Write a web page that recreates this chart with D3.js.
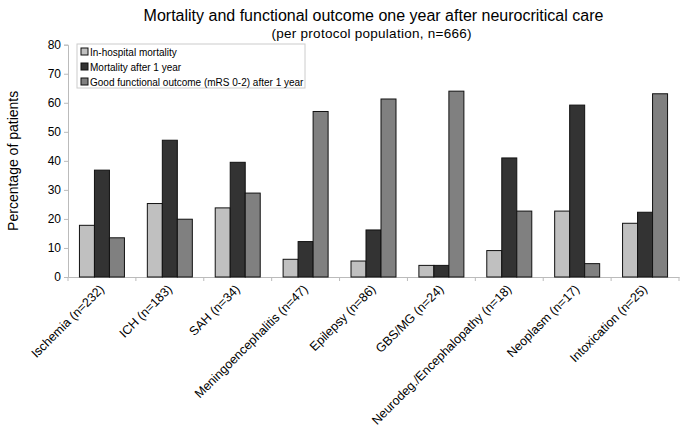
<!DOCTYPE html>
<html><head><meta charset="utf-8">
<script src="https://cdn.jsdelivr.net/npm/d3@7/dist/d3.min.js"></script>
<style>body{margin:0;background:#fff;font-family:"Liberation Sans",Arial,sans-serif;}</style>
</head><body><div id="chart"></div>
<script>
const categories = ["Ischemia (n=232)","ICH (n=183)","SAH (n=34)","Meningoencephalitis (n=47)","Epilepsy (n=86)","GBS/MG (n=24)","Neurodeg./Encephalopathy (n=18)","Neoplasm (n=17)","Intoxication (n=25)"];
const seriesNames = ["In-hospital mortality","Mortality after 1 year","Good functional outcome (mRS 0-2) after 1 year"];
const inHospital = [17.8, 25.3, 23.8, 6.1, 5.5, 4.0, 9.1, 22.7, 18.5];
const mortality1y = [36.8, 47.1, 39.5, 12.2, 16.2, 4.0, 41.0, 59.2, 22.3];
const goodOutcome = [13.5, 19.9, 28.9, 57.0, 61.3, 64.0, 22.7, 4.6, 63.1];
const yTicks = [0,10,20,30,40,50,60,70,80];
const colors = ["#c0c0c0","#333333","#808080"];

const W=685,H=430;
const m={left:68,right:6,top:44.7,bottom:153};
const svg=d3.select("#chart").append("svg").attr("width",W).attr("height",H)
  .style("font-family","'Liberation Sans',Arial,sans-serif");
const x=d3.scaleBand().domain(categories).range([m.left,W-m.right]).paddingInner(0).paddingOuter(0);
const y=d3.scaleLinear().domain([0,80]).range([H-m.bottom,m.top]);
const seriesData=[inHospital,mortality1y,goodOutcome];
const groupW=45;
const xs=d3.scaleBand().domain([0,1,2]).range([0,groupW]);

// axes
const yAxis=svg.append("g").attr("transform",`translate(${m.left},0)`)
  .call(d3.axisLeft(y).tickValues(yTicks).tickSize(4).tickPadding(3));
yAxis.select(".domain").attr("stroke","#bbb");
yAxis.selectAll(".tick line").attr("stroke","#bbb");
yAxis.selectAll(".tick text").attr("font-size","12px").attr("fill","#000").attr("font-family","'Liberation Sans',Arial,sans-serif");

const xAxis=svg.append("g").attr("transform",`translate(0,${y(0)})`)
  .call(d3.axisBottom(x).tickSize(0).tickFormat(""));
xAxis.select(".domain").attr("stroke","#bbb");
// boundary ticks
svg.append("g").selectAll("line").data(categories.concat(["__end"])).join("line")
  .attr("x1",(d,i)=>x.range()[0]+i*x.bandwidth()).attr("x2",(d,i)=>x.range()[0]+i*x.bandwidth())
  .attr("y1",y(0)).attr("y2",y(0)+4).attr("stroke","#bbb");

// bars
const groups=svg.append("g").selectAll("g").data(categories).join("g")
  .attr("transform",d=>`translate(${x(d)+(x.bandwidth()-groupW)/2},0)`);
groups.selectAll("rect").data((d,i)=>seriesData.map((s,j)=>({j,v:s[i]}))).join("rect")
  .attr("x",d=>xs(d.j)).attr("width",xs.bandwidth())
  .attr("y",d=>y(d.v)).attr("height",d=>y(0)-y(d.v))
  .attr("fill",d=>colors[d.j]).attr("stroke","#111").attr("stroke-width",1);

// x labels
svg.append("g").selectAll("text").data(categories).join("text")
  .attr("transform",d=>`translate(${x(d)+x.bandwidth()/2+3},${y(0)+13}) rotate(-45)`)
  .attr("text-anchor","end").attr("font-size","12.5px").text(d=>d);

// titles
const cx=(m.left+W-m.right)/2;
svg.append("text").attr("x",cx).attr("y",21).attr("text-anchor","middle").attr("font-size","16px").text("Mortality and functional outcome one year after neurocritical care");
svg.append("text").attr("x",cx-2).attr("y",38).attr("text-anchor","middle").attr("font-size","13.5px").attr("textLength",200).text("(per protocol population, n=666)");
svg.append("text").attr("transform",`translate(18,${(y(0)+y(80))/2}) rotate(-90)`).attr("text-anchor","middle").attr("font-size","14px").text("Percentage of patients");

// legend
const lg=svg.append("g").attr("transform","translate(77,44)");
lg.append("rect").attr("width",228).attr("height",44).attr("fill","#fff").attr("stroke","#ccc");
seriesNames.forEach((n,i)=>{
  lg.append("rect").attr("x",4).attr("y",4+i*15).attr("width",7).attr("height",7).attr("fill",colors[i]).attr("stroke","#111");
  lg.append("text").attr("x",13).attr("y",11.5+i*15).attr("font-size","10px").text(n);
});
</script></body></html>
